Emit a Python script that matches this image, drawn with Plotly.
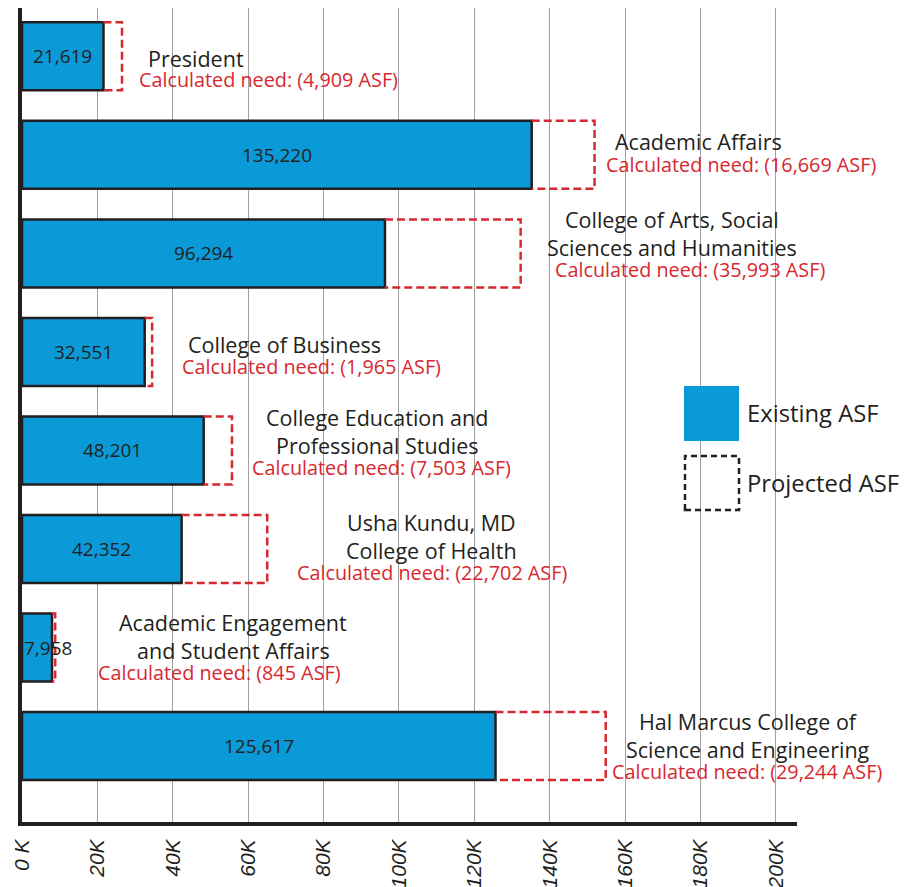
import plotly.graph_objects as go

# ---------------- data ----------------
categories = [
    "President",
    "Academic Affairs",
    "College of Arts, Social Sciences and Humanities",
    "College of Business",
    "College Education and Professional Studies",
    "Usha Kundu, MD College of Health",
    "Academic Engagement and Student Affairs",
    "Hal Marcus College of Science and Engineering",
]
existing_asf = [21619, 135220, 96294, 32551, 48201, 42352, 7958, 125617]
need_asf = [4909, 16669, 35993, 1965, 7503, 22702, 845, 29244]
label_lines = [
    ["President"],
    ["Academic Affairs"],
    ["College of Arts, Social", "Sciences and Humanities"],
    ["College of Business"],
    ["College Education and", "Professional Studies"],
    ["Usha Kundu, MD", "College of Health"],
    ["Academic Engagement", "and Student Affairs"],
    ["Hal Marcus College of", "Science and Engineering"],
]
tick_values = [0, 20000, 40000, 60000, 80000, 100000, 120000, 140000, 160000, 180000, 200000]
tick_labels = ["0 K", "20K", "40K", "60K", "80K", "100K", "120K", "140K", "160K", "180K", "200K"]
legend_labels = ["Existing ASF", "Projected ASF"]

# ---------------- layout constants (pixels) ----------------
W, H = 915, 887
PLOT_L, PLOT_R, PLOT_T, PLOT_B = 22, 797, 8, 822
X_MAX = 205600
BAR_W = 0.69
MIN_LABEL_X = 7000  # keep value labels of very short bars inside the plot
# label placement (pixel centers): black text center x, red text center x, first-line y
name_cx = [196, 698, 672, 284, 377, 431, 233, 748]
need_cx = [268, 741, 690, 311, 381, 432, 219, 747]
name_y0 = [58, 142, 219, 344, 417, 522, 622, 721]
LINE_GAP = 28.5
RED_GAP = 22

BLUE = "#0A9AD7"
DARK = "#231F20"
RED = "#D7282F"
GRID = "#A0A0A0"
FONT = "Open Sans"

def px_x(px):
    return (px - PLOT_L) / (PLOT_R - PLOT_L)

def px_y(py):
    return (PLOT_B - py) / (PLOT_B - PLOT_T)

ypos = list(range(len(categories)))
totals = [e + n for e, n in zip(existing_asf, need_asf)]

fig = go.Figure()

fig.add_trace(go.Bar(
    x=existing_asf, y=ypos, orientation="h", width=BAR_W,
    marker=dict(color=BLUE, line=dict(color=DARK, width=2.5)),
    hovertext=categories, showlegend=False,
))

# dashed projected boxes
dx, dy = [], []
for i, (e, t) in enumerate(zip(existing_asf, totals)):
    dx += [e, t, t, e, None]
    dy += [i - BAR_W / 2, i - BAR_W / 2, i + BAR_W / 2, i + BAR_W / 2, None]
fig.add_trace(go.Scatter(
    x=dx, y=dy, mode="lines",
    line=dict(color=RED, width=2.5, dash="8px,4px"),
    showlegend=False, hoverinfo="skip",
))

annotations = []
for i, v in enumerate(existing_asf):
    annotations.append(dict(
        x=max(v / 2, MIN_LABEL_X), y=i, xref="x", yref="y", text=f"{v:,}", showarrow=False,
        font=dict(family=FONT, size=19, color=DARK),
    ))
for i in range(len(categories)):
    lines = label_lines[i]
    for k, ln in enumerate(lines):
        annotations.append(dict(
            x=px_x(name_cx[i]), y=px_y(name_y0[i] + k * LINE_GAP), xref="paper", yref="paper",
            text=ln, showarrow=False, xanchor="center", yanchor="middle",
            font=dict(family=FONT, size=21.5, color=DARK),
        ))
    ry = name_y0[i] + (len(lines) - 1) * LINE_GAP + RED_GAP
    annotations.append(dict(
        x=px_x(need_cx[i]), y=px_y(ry), xref="paper", yref="paper",
        text=f"Calculated need: ({need_asf[i]:,} ASF)", showarrow=False,
        xanchor="center", yanchor="middle",
        font=dict(family=FONT, size=19.8, color=RED),
    ))

# custom legend
annotations.append(dict(x=px_x(745), y=px_y(413), xref="paper", yref="paper", text=legend_labels[0],
                        showarrow=False, xanchor="left", yanchor="middle",
                        font=dict(family=FONT, size=23.8, color=DARK)))
annotations.append(dict(x=px_x(745), y=px_y(483), xref="paper", yref="paper", text=legend_labels[1],
                        showarrow=False, xanchor="left", yanchor="middle",
                        font=dict(family=FONT, size=23.8, color=DARK)))
shapes = [
    dict(type="rect", xref="paper", yref="paper", x0=px_x(684), x1=px_x(739), y0=px_y(441), y1=px_y(386),
         fillcolor=BLUE, line=dict(width=0)),
    dict(type="rect", xref="paper", yref="paper", x0=px_x(685), x1=px_x(739), y0=px_y(510), y1=px_y(456),
         fillcolor="rgba(0,0,0,0)", line=dict(color=DARK, width=2.5, dash="6px,4px")),
]

fig.update_layout(
    width=W, height=H,
    margin=dict(l=PLOT_L, r=W - PLOT_R, t=PLOT_T, b=H - PLOT_B),
    paper_bgcolor="white", plot_bgcolor="white",
    barmode="overlay",
    annotations=annotations, shapes=shapes,
    xaxis=dict(
        range=[0, X_MAX], tickvals=tick_values, ticktext=tick_labels, tickangle=-90,
        tickfont=dict(family="Liberation Sans", size=21, color=DARK, style="italic"),
        showgrid=True, gridcolor=GRID, gridwidth=1, zeroline=False, automargin=False,
        showline=True, linecolor=DARK, linewidth=4, ticks="", ticklabelstandoff=5,
    ),
    yaxis=dict(
        range=[len(categories) - 1 + 0.77, -0.49], showticklabels=False, showgrid=False,
        zeroline=False, showline=True, linecolor=DARK, linewidth=4, ticks="", automargin=False,
    ),
)

fig.write_html("out.html")
